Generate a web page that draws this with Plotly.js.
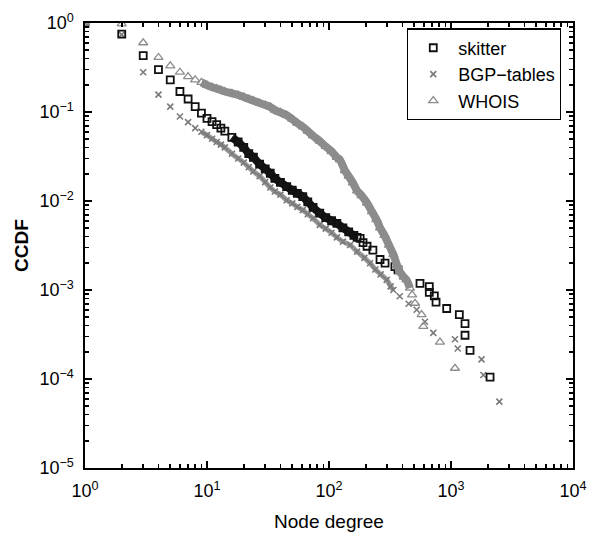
<!DOCTYPE html>
<html>
<head>
<meta charset="utf-8">
<script src="https://cdn.plot.ly/plotly-3.0.1.min.js"></script>
<style>html,body{margin:0;padding:0;background:#fff;}#chart{width:590px;height:541px;}</style>
</head>
<body>
<div id="chart"></div>
<script>
// ---- data (node degree, CCDF) ----
const skitterDegree = [1,2,3,4,5,6,7,8,9,10,11,12,13,14,16,18,20,22,24,27,30,33,36,40,45,50,55,61,67,74,84,94,105,116,130,145,160,170,180,190,205,229,262,288,347,368,557,664,664,730,754,922,1170,1303,1303,1432,2090];
const skitterCCDF   = [1.0,0.75,0.43,0.30,0.23,0.17,0.14,0.115,0.097,0.085,0.078,0.072,0.066,0.061,0.052,0.046,0.040,0.034,0.031,0.026,0.023,0.0205,0.018,0.0162,0.0145,0.0132,0.0122,0.0112,0.0098,0.0085,0.0073,0.0065,0.0060,0.0056,0.0050,0.0045,0.0041,0.0039,0.0038,0.0034,0.0031,0.0028,0.0022,0.0020,0.00183,0.00168,0.00119,0.00109,0.00094,0.00086,0.00073,0.00062,0.00053,0.00042,0.00031,0.00021,0.000105];

const bgpDegree = [1,2,3,4,5,6,7,8,9,10,11,12,13,14,16,18,20,22,24,27,30,33,36,40,45,50,55,61,67,74,84,94,105,116,130,149,170,195,217,240,265,297,320,337,380,450,523,612,716,1078,1135,1780,1842,2490];
const bgpCCDF   = [1.0,0.74,0.28,0.157,0.115,0.089,0.077,0.066,0.060,0.055,0.050,0.046,0.043,0.040,0.034,0.030,0.027,0.024,0.0215,0.019,0.0163,0.0142,0.0128,0.0118,0.0102,0.0094,0.0086,0.0079,0.0071,0.0064,0.0054,0.0049,0.0044,0.0039,0.0035,0.0032,0.0027,0.0023,0.0020,0.0017,0.0015,0.0013,0.0011,0.0010,0.00085,0.0007,0.0006,0.00044,0.00033,0.00028,0.00022,0.000166,0.000111,0.0000556];

const whoisDegree = [1,2,3,4,5,6,7,8,9,10,11,12,13,14,16,18,20,22,24,27,30,33,36,40,45,50,55,61,67,74,84,94,105,116,123,135,145,157,170,185,205,225,245,262,285,310,337,361,381,410,432,461,480,507,574,593,812,1078];
const whoisCCDF   = [1.0,0.98,0.60,0.41,0.33,0.28,0.25,0.23,0.215,0.20,0.19,0.183,0.176,0.170,0.162,0.155,0.147,0.140,0.134,0.126,0.120,0.114,0.105,0.099,0.092,0.083,0.075,0.068,0.061,0.054,0.047,0.041,0.036,0.031,0.029,0.022,0.019,0.016,0.013,0.0115,0.0095,0.0076,0.0062,0.0050,0.0041,0.0032,0.0025,0.0019,0.0016,0.0014,0.0013,0.00105,0.00088,0.00071,0.00053,0.00039,0.00026,0.000132];

// degree ranges where the reference's markers overlap into a solid band
const skitterBand = [16, 175];
const bgpBand = [9, 337];
const whoisBand = [9, 470];

const seriesNames = ["skitter","BGP\u2212tables","WHOIS"];
const xTickVals = [1,10,100,1000,10000];
const xTickText = ["10<sup>0</sup>","10<sup>1</sup>","10<sup>2</sup>","10<sup>3</sup>","10<sup>4</sup>"];
const yTickVals = [1e-5,1e-4,1e-3,1e-2,1e-1,1];
const yTickText = ["10<sup>\u22125</sup>","10<sup>\u22124</sup>","10<sup>\u22123</sup>","10<sup>\u22122</sup>","10<sup>\u22121</sup>","10<sup>0</sup>"];
const minorMantissas = [2,3,4,5,6,7,8,9];

function minorTicks(decades) {
  const out = [];
  decades.forEach(d => minorMantissas.forEach(m => out.push(m * d)));
  return out;
}

function band(xs, ys, r) {
  const bx = [], by = [];
  xs.forEach((v, i) => { if (v >= r[0] && v <= r[1]) { bx.push(v); by.push(ys[i]); } });
  return {x: bx, y: by};
}
const wb = band(whoisDegree, whoisCCDF, whoisBand);
const bb = band(bgpDegree, bgpCCDF, bgpBand);
const sb = band(skitterDegree, skitterCCDF, skitterBand);

const traces = [
  {x: bb.x, y: bb.y, type: 'scatter', mode: 'lines', showlegend: false, hoverinfo: 'skip',
   line: {color: '#9a9a9a', width: 5, shape: 'spline', smoothing: 0.6}},
  {x: bgpDegree, y: bgpCCDF, name: seriesNames[1], legendrank: 2, type: 'scatter', mode: 'markers',
   marker: {symbol: 'x-thin-open', size: 6, color: '#7a7a7a', line: {width: 1.6, color: '#7a7a7a'}}},
  {x: sb.x, y: sb.y, type: 'scatter', mode: 'lines', showlegend: false, hoverinfo: 'skip',
   line: {color: '#151515', width: 8, shape: 'spline', smoothing: 0.6}},
  {x: skitterDegree, y: skitterCCDF, name: seriesNames[0], legendrank: 1, type: 'scatter', mode: 'markers',
   marker: {symbol: 'square-open', size: 7, color: '#111', line: {width: 1.8, color: '#111'}}},
  {x: wb.x, y: wb.y, type: 'scatter', mode: 'lines', showlegend: false, hoverinfo: 'skip',
   line: {color: '#8c8c8c', width: 8, shape: 'spline', smoothing: 0.6}},
  {x: whoisDegree, y: whoisCCDF, name: seriesNames[2], legendrank: 3, type: 'scatter', mode: 'markers',
   marker: {symbol: 'triangle-up-open', size: 8, color: '#8c8c8c', line: {width: 1.3, color: '#8c8c8c'}}}
];

const font = 'Liberation Sans, Arial, sans-serif';

function axis(range, vals, text, minorVals, title, standoff) {
  return {
    type: 'log', range: range, showline: true, linecolor: '#000', linewidth: 1.6, mirror: 'allticks',
    tickmode: 'array', tickvals: vals, ticktext: text,
    ticks: 'inside', ticklen: 7, tickwidth: 2, tickcolor: '#000', ticklabelstandoff: 6,
    minor: {tickmode: 'array', tickvals: minorVals, ticks: 'inside', ticklen: 4, tickwidth: 1.6, tickcolor: '#000', showgrid: false},
    showgrid: false, zeroline: false,
    tickfont: {family: font, size: 18, color: '#000'},
    title: {text: title, standoff: standoff, font: {family: font, size: 19, color: '#000'}}
  };
}

const layout = {
  width: 590, height: 541,
  margin: {l: 85, r: 17, t: 23, b: 73},
  paper_bgcolor: '#fff', plot_bgcolor: '#fff',
  showlegend: true,
  legend: {x: 0.66, y: 0.988, xanchor: 'left', yanchor: 'top', bgcolor: '#fff',
    bordercolor: '#000', borderwidth: 1.2, traceorder: 'normal', itemwidth: 40,
    font: {family: font, size: 18, color: '#000'}},
  xaxis: axis([0, 4], xTickVals, xTickText, minorTicks([1, 10, 100, 1000]), 'Node degree', 14),
  yaxis: axis([-5, 0], yTickVals, yTickText, minorTicks([1e-5, 1e-4, 1e-3, 1e-2, 1e-1]), '<b>CCDF</b>', 6)
};

Plotly.newPlot('chart', traces, layout, {displayModeBar: false, staticPlot: true});
</script>
</body>
</html>
